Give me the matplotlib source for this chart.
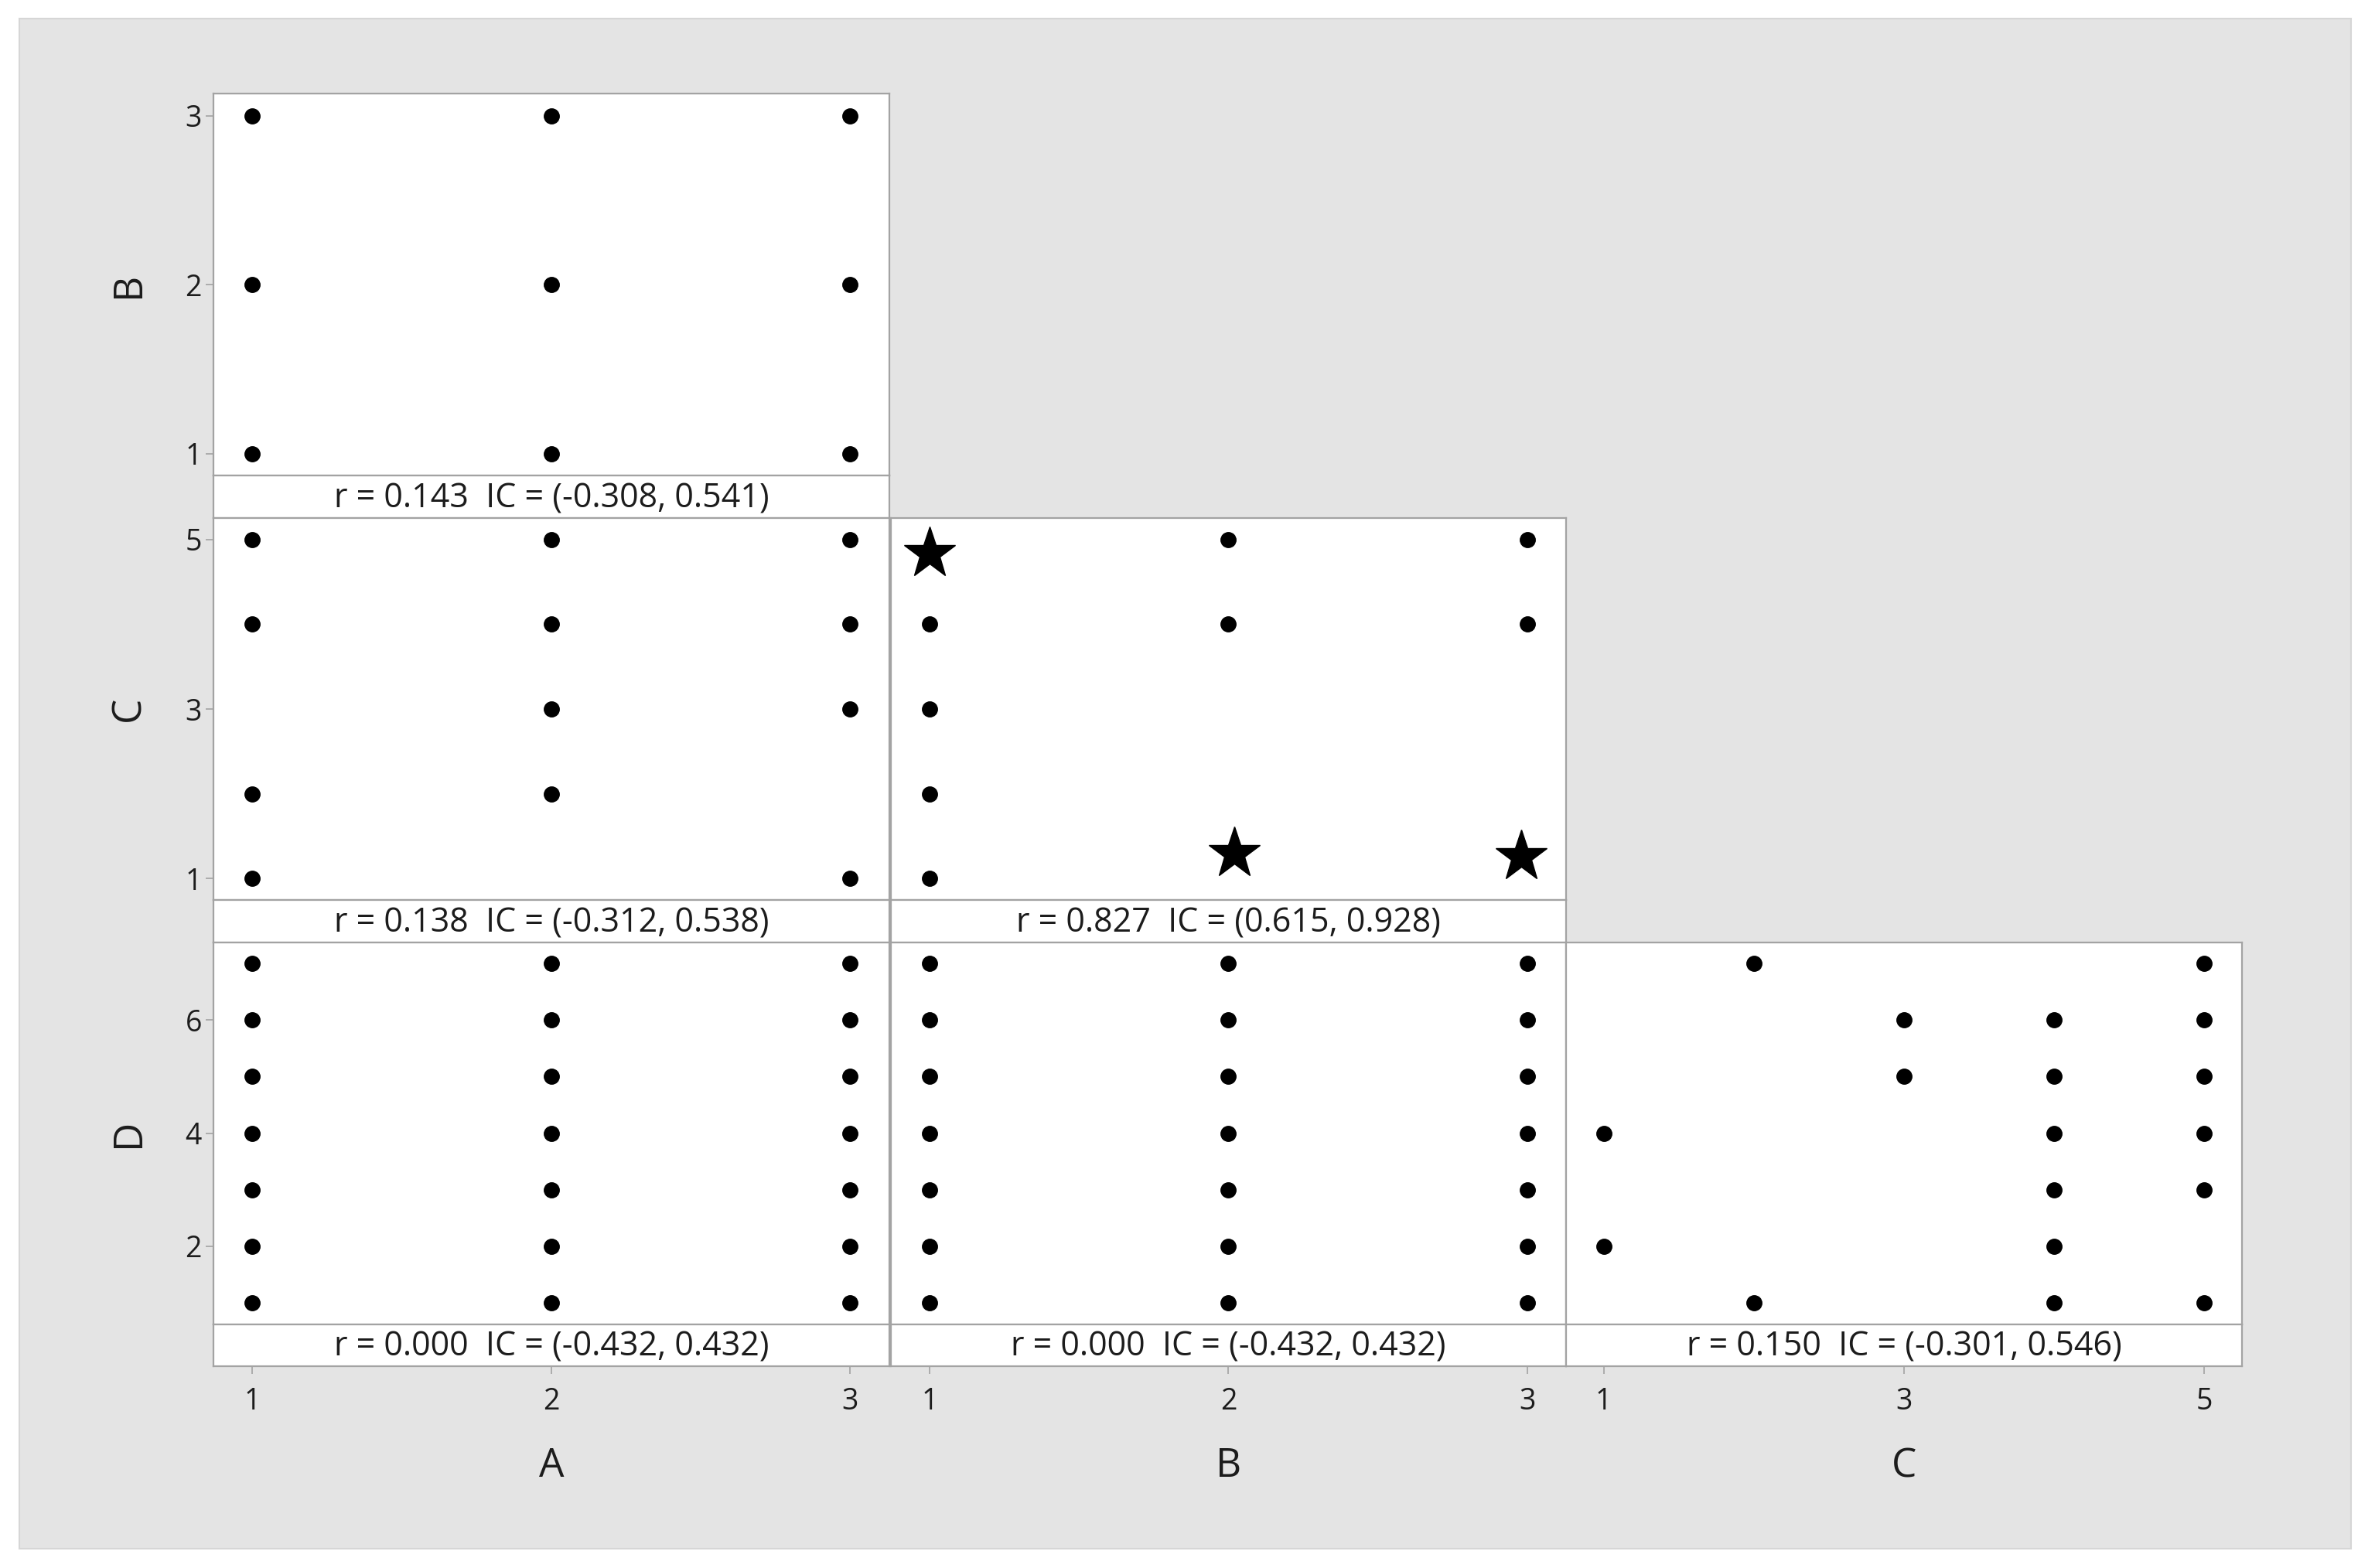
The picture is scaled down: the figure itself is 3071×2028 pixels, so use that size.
import matplotlib
matplotlib.use('Agg')
import matplotlib.pyplot as plt
from matplotlib.patches import Rectangle

plt.rcParams['font.family'] = ['Open Sans', 'DejaVu Sans']

# ==============================
# data
# ==============================

# A vs B
ab_a = [1, 1, 1, 2, 2, 2, 3, 3, 3]
ab_b = [1, 2, 3, 1, 2, 3, 1, 2, 3]

# A vs C
ac_a = [1, 1, 1, 1, 2, 2, 2, 2, 3, 3, 3, 3]
ac_c = [5, 4, 2, 1, 5, 4, 3, 2, 5, 4, 3, 1]

# B vs C (dots) + highlighted points (stars)
bc_b = [1, 1, 1, 1, 2, 2, 3, 3]
bc_c = [4, 3, 2, 1, 5, 4, 5, 4]
star_b = [1.0, 2.02, 2.98]
star_c = [4.83, 1.30, 1.26]

# A vs D
ad_a = [1, 1, 1, 1, 1, 1, 1, 2, 2, 2, 2, 2, 2, 2, 3, 3, 3, 3, 3, 3, 3]
ad_d = [1, 2, 3, 4, 5, 6, 7, 1, 2, 3, 4, 5, 6, 7, 1, 2, 3, 4, 5, 6, 7]

# B vs D
bd_b = [1, 1, 1, 1, 1, 1, 1, 2, 2, 2, 2, 2, 2, 2, 3, 3, 3, 3, 3, 3, 3]
bd_d = [1, 2, 3, 4, 5, 6, 7, 1, 2, 3, 4, 5, 6, 7, 1, 2, 3, 4, 5, 6, 7]

# C vs D
cd_c = [1, 1, 2, 2, 3, 3, 4, 4, 4, 4, 4, 4, 5, 5, 5, 5, 5, 5]
cd_d = [4, 2, 7, 1, 6, 5, 6, 5, 4, 3, 2, 1, 7, 6, 5, 4, 3, 1]

corr_ab = 'r = 0.143  IC = (-0.308, 0.541)'
corr_ac = 'r = 0.138  IC = (-0.312, 0.538)'
corr_bc = 'r = 0.827  IC = (0.615, 0.928)'
corr_ad = 'r = 0.000  IC = (-0.432, 0.432)'
corr_bd = 'r = 0.000  IC = (-0.432, 0.432)'
corr_cd = 'r = 0.150  IC = (-0.301, 0.546)'

variables = ['A', 'B', 'C', 'D']
var_ticks = {'A': [1, 2, 3], 'B': [1, 2, 3], 'C': [1, 3, 5], 'D': [2, 4, 6]}
var_lims = {'A': (0.87, 3.13), 'B': (0.87, 3.13), 'C': (0.75, 5.25), 'D': (0.625, 7.375)}

# (row, col) -> x, y, text
panels = {
    (0, 0): (ab_a, ab_b, corr_ab),
    (1, 0): (ac_a, ac_c, corr_ac),
    (1, 1): (bc_b, bc_c, corr_bc),
    (2, 0): (ad_a, ad_d, corr_ad),
    (2, 1): (bd_b, bd_d, corr_bd),
    (2, 2): (cd_c, cd_d, corr_cd),
}

# ==============================
# layout (in reference pixels, 1568x1035 grid)
# ==============================
W, H = 1568.0, 1035.0
col_left = [141, 588, 1034]
col_w = 446
row_top = [62, 342, 622]
plot_h = 252
strip_h = 28

SPINE = '#a3a3a3'
TXT = '#1c1c1c'


def fig_rect(x0, y0, w, h):
    return [x0 / W, 1 - (y0 + h) / H, w / W, h / H]


def style_box(ax):
    ax.set_facecolor('white')
    for s in ax.spines.values():
        s.set_color(SPINE)
        s.set_linewidth(1.6)
    ax.tick_params(colors=SPINE, labelcolor=TXT, labelsize=27, length=7, width=1.2)


fig = plt.figure(figsize=(30.71, 20.28), dpi=100)
fig.patches.append(Rectangle((13 / W, 1 - 1022 / H), (1552 - 13) / W, (1022 - 12) / H,
                             transform=fig.transFigure, facecolor='#e4e4e4',
                             edgecolor='#d6d6d6', linewidth=1.5, zorder=-1))

for (r, c), (xs, ys, label) in panels.items():
    xvar = variables[c]
    yvar = variables[r + 1]

    ax = fig.add_axes(fig_rect(col_left[c], row_top[r], col_w, plot_h))
    style_box(ax)
    ax.plot(xs, ys, 'o', color='black', markersize=14, zorder=3)
    if (r, c) == (1, 1):
        ax.plot(star_b, star_c, '*', color='black', markersize=50, zorder=4, clip_on=False)
    ax.set_xlim(var_lims[xvar])
    ax.set_ylim(var_lims[yvar])
    ax.set_xticks([])
    if c == 0:
        ax.set_yticks(var_ticks[yvar])
        ax.tick_params(axis='y', pad=4)
    else:
        ax.set_yticks([])

    # correlation strip below each panel
    sx = fig.add_axes(fig_rect(col_left[c], row_top[r] + plot_h, col_w, strip_h))
    style_box(sx)
    sx.set_xlim(var_lims[xvar])
    sx.set_yticks([])
    sx.text(0.5, 0.45, label, transform=sx.transAxes, ha='center', va='center',
            fontsize=31, color=TXT)
    if r == 2:
        sx.set_xticks(var_ticks[xvar])
        sx.tick_params(axis='x', pad=12)
    else:
        sx.set_xticks([])

# axis titles
for c, name in enumerate(['A', 'B', 'C']):
    fig.text((col_left[c] + col_w / 2) / W, 1 - 968 / H, name, ha='center', va='center',
             fontsize=37, color=TXT)
for r, name in enumerate(['B', 'C', 'D']):
    fig.text(85 / W, 1 - (row_top[r] + plot_h / 2) / H, name, ha='center', va='center',
             rotation=90, fontsize=37, color=TXT)

fig.savefig('out.png', dpi=100)
